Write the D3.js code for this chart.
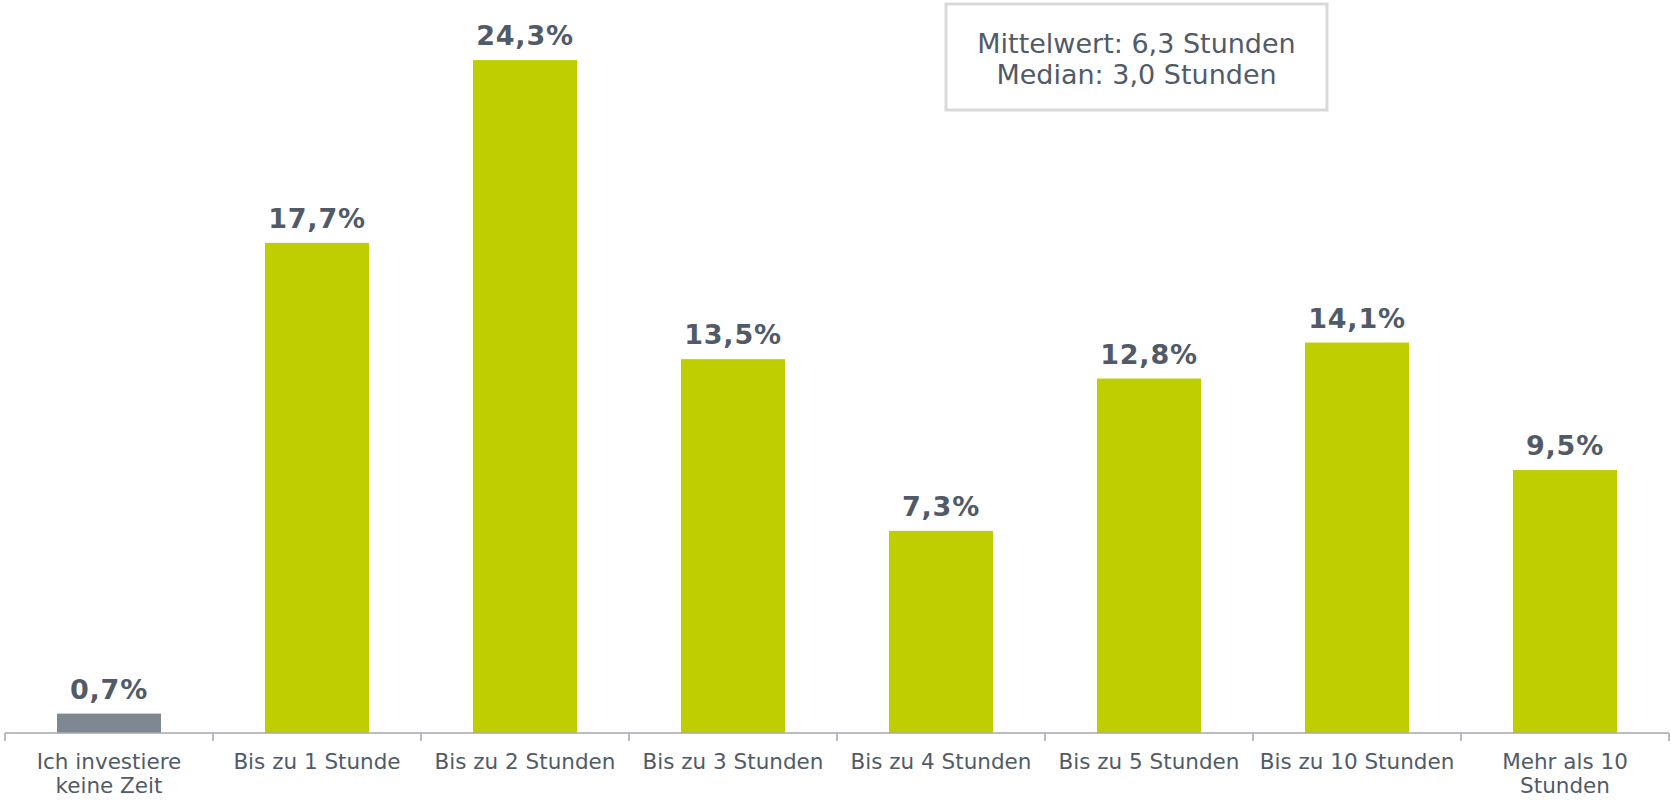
<!DOCTYPE html>
<html>
<head>
<meta charset="utf-8">
<script src="https://cdn.jsdelivr.net/npm/d3@7"></script>
<style>
  html, body { margin: 0; padding: 0; background: #fff; }
  svg { display: block; font-family: "DejaVu Sans", Verdana, sans-serif; }
</style>
</head>
<body>
<svg id="chart" width="1671" height="800"></svg>
<script>
// Zeitinvestition pro Woche — Verteilung der Antworten
const categories = [
    ['Ich investiere', 'keine Zeit'],
    ['Bis zu 1 Stunde'],
    ['Bis zu 2 Stunden'],
    ['Bis zu 3 Stunden'],
    ['Bis zu 4 Stunden'],
    ['Bis zu 5 Stunden'],
    ['Bis zu 10 Stunden'],
    ['Mehr als 10', 'Stunden']
];
const values = [0.7, 17.7, 24.3, 13.5, 7.3, 12.8, 14.1, 9.5];
const summaryLines = ['Mittelwert: 6,3 Stunden', 'Median: 3,0 Stunden'];

const W = 1671, H = 800;
const margin = { top: 13, right: 2, bottom: 67, left: 5 };
const textColor = '#515b67';
const green = '#bfce00';
const grey = '#7f8790';

const svg = d3.select('#chart');
const keys = categories.map((c, i) => i);

const x = d3.scaleBand()
    .domain(keys)
    .range([margin.left, W - margin.right])
    .paddingInner(0.5)
    .paddingOuter(0.25);

const y = d3.scaleLinear()
    .domain([0, 26])
    .range([H - margin.bottom, margin.top]);

const step = x.step();
const y0 = y(0);

// Bars
svg.append('g').selectAll('rect')
    .data(values)
    .join('rect')
    .attr('x', (d, i) => x(i))
    .attr('y', d => y(d))
    .attr('width', x.bandwidth())
    .attr('height', d => y0 - y(d))
    .attr('fill', (d, i) => i === 0 ? grey : green);

// Value labels
const fmt = d => d.toFixed(1).replace('.', ',') + '%';
svg.append('g').selectAll('text')
    .data(values)
    .join('text')
    .attr('x', (d, i) => x(i) + x.bandwidth() / 2)
    .attr('y', d => y(d) - 15)
    .attr('text-anchor', 'middle')
    .attr('font-size', 27)
    .attr('font-weight', 700)
    .attr('letter-spacing', 0.8)
    .attr('fill', textColor)
    .text(fmt);

// Axis line + ticks at the band boundaries
const axis = svg.append('g');
axis.append('line')
    .attr('x1', margin.left).attr('x2', W - margin.right)
    .attr('y1', y0).attr('y2', y0)
    .attr('stroke', '#a3a8b0').attr('stroke-width', 1.5);
const tickX = keys.map(i => x(i) - step * 0.25).concat([W - margin.right]);
axis.selectAll('line.tick')
    .data(tickX)
    .join('line')
    .attr('class', 'tick')
    .attr('x1', d => d).attr('x2', d => d)
    .attr('y1', y0).attr('y2', y0 + 8)
    .attr('stroke', '#a3a8b0').attr('stroke-width', 1.5);

// Category labels
const catText = axis.selectAll('text.cat')
    .data(categories)
    .join('text')
    .attr('class', 'cat')
    .attr('text-anchor', 'middle')
    .attr('font-size', 21.5)
    .attr('fill', textColor);
catText.selectAll('tspan')
    .data((d, i) => d.map(t => ({ t, i })))
    .join('tspan')
    .attr('x', d => x(d.i) + x.bandwidth() / 2)
    .attr('y', (d, j) => y0 + 36 + j * 24)
    .text(d => d.t);

// Summary box
const box = { x: 946, y: 4, w: 381, h: 106 };
svg.append('rect')
    .attr('x', box.x).attr('y', box.y)
    .attr('width', box.w).attr('height', box.h)
    .attr('fill', '#fff')
    .attr('stroke', '#d9d9d9').attr('stroke-width', 3);
svg.append('g').selectAll('text')
    .data(summaryLines)
    .join('text')
    .attr('x', box.x + box.w / 2)
    .attr('y', (d, i) => 53 + i * 31)
    .attr('text-anchor', 'middle')
    .attr('font-size', 27)
    .attr('fill', textColor)
    .text(d => d);
</script>
</body>
</html>
